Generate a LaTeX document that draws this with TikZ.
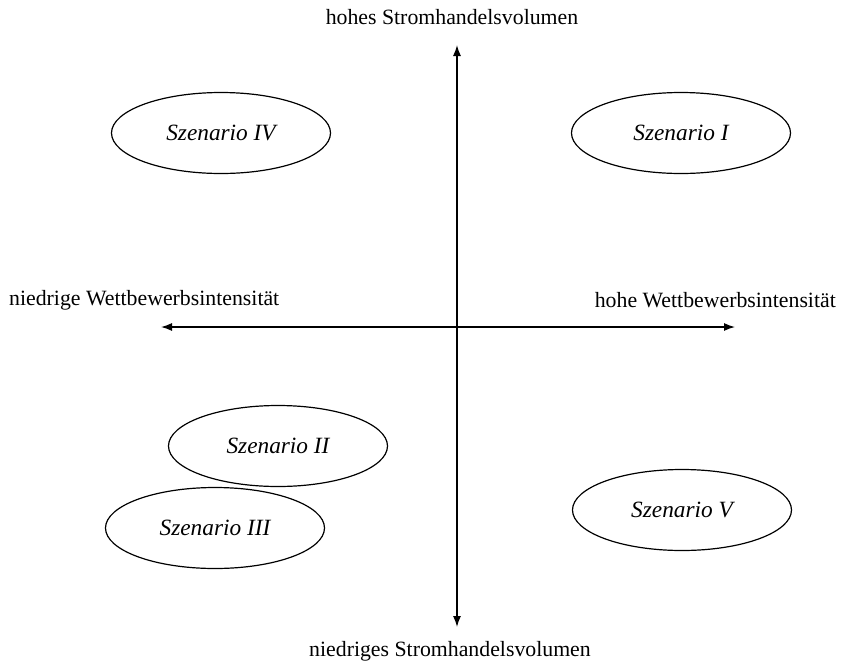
\documentclass[tikz,border=0pt]{standalone}
\usepackage{fontspec}
\setmainfont{Liberation Serif}
\usetikzlibrary{shapes.geometric,arrows.meta}

\begin{document}
\begin{tikzpicture}[x=1pt, y=-1pt,
                scen/.style={ellipse, draw, line width=1.2pt, minimum width=219pt, minimum height=81pt, inner sep=0pt, font=\fontsize{23.3}{26}\selectfont\itshape},
                axlabel/.style={inner sep=0pt, font=\fontsize{21.8}{24}\selectfont},
                axis_style/.style={draw=black, line width=1.3pt, -{Latex[length=11pt, width=8pt]}}]
                \useasboundingbox (0,0) rectangle (844,662);
                \coordinate (origin) at (457, 327);
                \coordinate (top) at (457, 45);
                \coordinate (bottom) at (457, 627);
                \coordinate (left) at (161, 327);
                \coordinate (right) at (735, 327);
                \draw[axis_style] (origin) -- (top);
                \draw[axis_style] (origin) -- (bottom);
                \draw[axis_style] (origin) -- (left);
                \draw[axis_style] (origin) -- (right);
                \node[axlabel] (hoch) at (452, 17) {hohes Stromhandelsvolumen};
                \node[axlabel] (niedrig) at (450, 651) {niedriges Stromhandelsvolumen};
                \node[axlabel, anchor=west] (wlow) at (9, 300) {niedrige Wettbewerbsintensität};
                \node[axlabel, anchor=east] (whigh) at (836, 300) {hohe Wettbewerbsintensität};
                \node[scen] (s4) at (221, 133) {Szenario IV};
                \node[scen] (s1) at (681, 133) {Szenario I};
                \node[scen] (s2) at (278, 446) {Szenario II};
                \node[scen] (s3) at (215, 528) {Szenario III};
                \node[scen] (s5) at (682, 510) {Szenario V};
            \end{tikzpicture}
\end{document}
